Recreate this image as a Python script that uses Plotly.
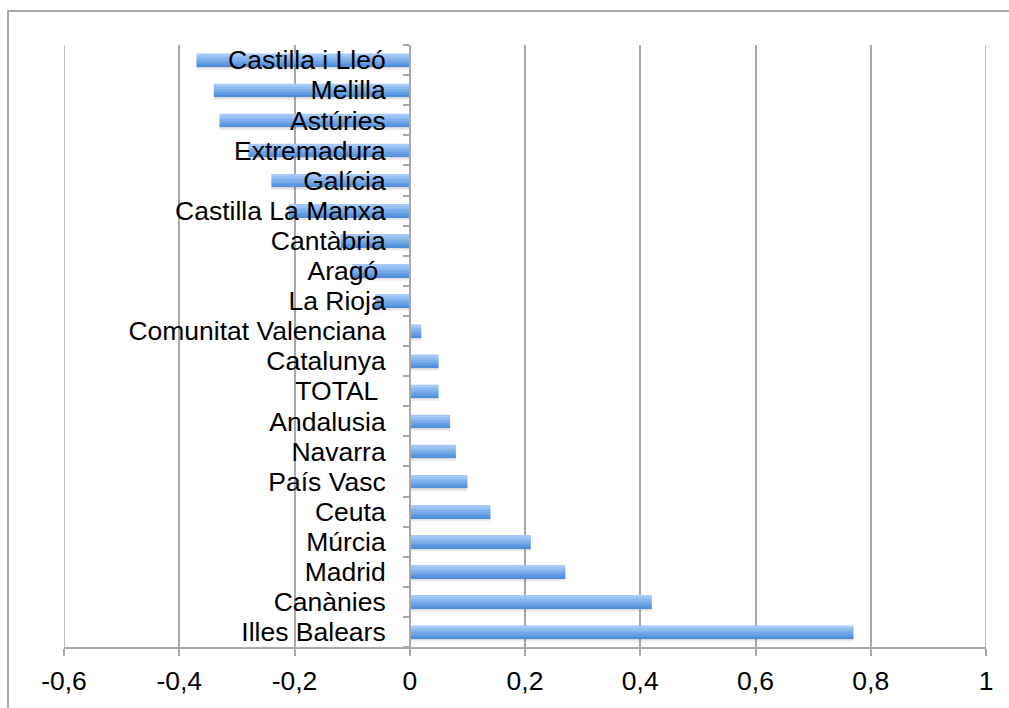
import plotly.graph_objects as go

# Regional values, listed bottom to top
regions = [
    "Illes Balears", "Canànies", "Madrid", "Múrcia", "Ceuta", "País Vasc",
    "Navarra", "Andalusia", "TOTAL\u00a0", "Catalunya", "Comunitat Valenciana",
    "La Rioja", "Aragó\u00a0", "Cantàbria", "Castilla La Manxa", "Galícia",
    "Extremadura", "Astúries", "Melilla", "Castilla i Lleó",
]
values = [
    0.77, 0.42, 0.27, 0.21, 0.14, 0.10,
    0.08, 0.07, 0.05, 0.05, 0.02,
    -0.06, -0.10, -0.12, -0.21, -0.24,
    -0.28, -0.33, -0.34, -0.37,
]
x_tick_values = [-0.6, -0.4, -0.2, 0, 0.2, 0.4, 0.6, 0.8, 1]
x_tick_labels = ["-0,6", "-0,4", "-0,2", "0", "0,2", "0,4", "0,6", "0,8", "1"]

X_MIN, X_MAX = -0.6, 1.0
BAR_W = 0.43
GRID = "#a9a9a9"
FONT = "Liberation Sans, Arial, Helvetica, sans-serif"
FS = 26.5

fig = go.Figure()

# soft drop shadow under each bar
for off, w, a in [(-BAR_W / 2 - 0.05, 0.05, 0.16), (-BAR_W / 2 - 0.11, 0.06, 0.07)]:
    fig.add_trace(go.Bar(
        y=regions, x=values, orientation="h", width=w, offset=off,
        marker=dict(color=f"rgba(0,0,0,{a})", line=dict(width=0)),
        hoverinfo="skip", showlegend=False,
    ))

# vertical gradient: darker blue at the bottom edge, pale blue at the top
bottom_rgb = (78, 142, 219)
top_rgb = (166, 202, 247)
n_bands = 8
band = BAR_W / n_bands
for i in range(n_bands):
    t = i / (n_bands - 1)
    r, g, b = (round(bottom_rgb[k] + (top_rgb[k] - bottom_rgb[k]) * t) for k in range(3))
    fig.add_trace(go.Bar(
        y=regions, x=values, orientation="h",
        width=band * 1.02, offset=-BAR_W / 2 + i * band,
        marker=dict(color=f"rgb({r},{g},{b})", line=dict(width=0)),
        hoverinfo="skip", showlegend=False,
    ))

# plot-area geometry in pixels, used for the outer frame
L, R, T, B = 64, 23, 45, 59
W, H = 1009, 708
pw, ph = W - L - R, H - T - B

fig.update_layout(
    width=W, height=H,
    margin=dict(l=L, r=R, t=T, b=B, pad=0),
    paper_bgcolor="white", plot_bgcolor="white",
    barmode="overlay",
    showlegend=False,
    font=dict(family=FONT, size=FS, color="black"),
    xaxis=dict(
        range=[X_MIN, X_MAX], domain=[0, 1],
        tickmode="array", tickvals=x_tick_values, ticktext=x_tick_labels,
        showgrid=True, gridcolor=GRID, gridwidth=1.5,
        zeroline=False,
        showline=True, linecolor=GRID, linewidth=1.5,
        ticks="outside", ticklen=7, tickcolor=GRID, tickwidth=1.5,
        tickfont=dict(family=FONT, size=FS, color="black"),
        ticklabelstandoff=2,
        fixedrange=True,
    ),
    yaxis=dict(
        type="category", categoryorder="array", categoryarray=regions,
        range=[-0.5, len(regions) - 0.5],
        tickmode="linear", tick0=0, dtick=1,
        anchor="free", position=(0 - X_MIN) / (X_MAX - X_MIN),
        showgrid=False, zeroline=False,
        showline=True, linecolor=GRID, linewidth=1.5,
        ticks="outside", tickson="boundaries", ticklen=6,
        tickcolor=GRID, tickwidth=1.5,
        tickfont=dict(family=FONT, size=FS, color="black"),
        ticklabelstandoff=18,
        layer="above traces",
        fixedrange=True,
    ),
    shapes=[
        # outer chart frame
        dict(
            type="rect", xref="paper", yref="paper",
            x0=(8 - L) / pw, x1=1.2,
            y0=-0.3, y1=1 + (T - 11) / ph,
            line=dict(color="#8f8f8f", width=1.5),
            fillcolor="rgba(0,0,0,0)", layer="below",
        ),
        # gridlines at both ends of the value range
        dict(
            type="line", xref="x", yref="paper",
            x0=X_MIN, x1=X_MIN, y0=0, y1=1,
            line=dict(color=GRID, width=1.5), layer="below",
        ),
        dict(
            type="line", xref="x", yref="paper",
            x0=X_MAX, x1=X_MAX, y0=0, y1=1,
            line=dict(color=GRID, width=1.5), layer="below",
        ),
    ],
)

fig.write_html("out.html")
